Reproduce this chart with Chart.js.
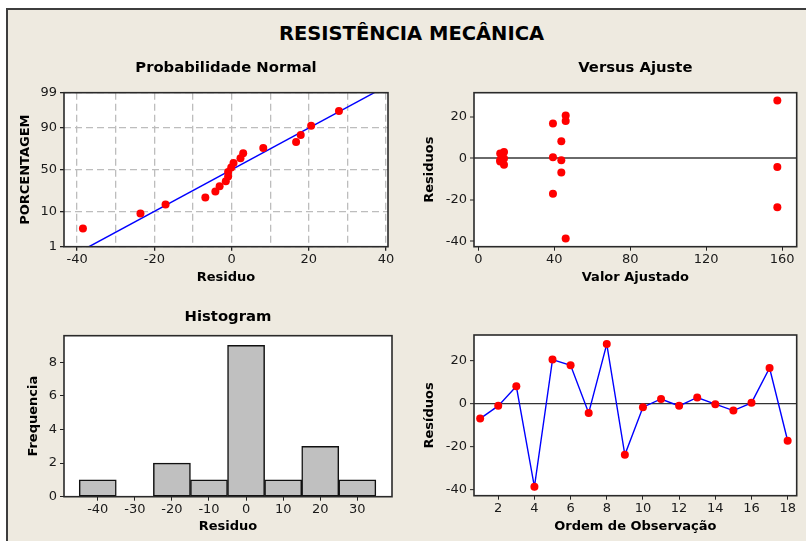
<!DOCTYPE html>
<html>
<head>
<meta charset="utf-8">
<script src="https://cdn.jsdelivr.net/npm/chart.js@4.4.1/dist/chart.umd.min.js"></script>
<style>
  html, body { margin: 0; padding: 0; background: #fff; }
  #page { position: relative; width: 806px; height: 541px; overflow: hidden; background: #fff; }
  #frame { position: absolute; left: 6px; top: 8px; right: 0; bottom: 0; background: #eeeae0;
           border-top: 2px solid #3d3d3d; border-left: 2px solid #3d3d3d; }
  #mainTitle { position: absolute; left: 0; width: 823px; top: 21.5px; line-height: 22px; text-align: center;
               font: bold 19.5px "DejaVu Sans", sans-serif; color: #000; }
  canvas { position: absolute; }
</style>
</head>
<body>
<div id="page">
  <div id="frame"></div>
  <div id="mainTitle">RESISTÊNCIA MECÂNICA</div>
  <canvas id="cProb" width="400" height="245" style="left:0px;top:50px"></canvas>
  <canvas id="cFit" width="406" height="245" style="left:400px;top:50px"></canvas>
  <canvas id="cHist" width="400" height="246" style="left:0px;top:295px"></canvas>
  <canvas id="cOrder" width="406" height="246" style="left:400px;top:295px"></canvas>
</div>
<script>
// Residual analysis data (observation order)
const observations = [1, 2, 3, 4, 5, 6, 7, 8, 9, 10, 11, 12, 13, 14, 15, 16, 17, 18];
const residuals = [-6.8, -0.9, 8.2, -38.5, 20.6, 17.9, -4.2, 27.8, -23.6,
                   -1.5, 2.3, -0.9, 3.0, -0.1, -3.1, 0.5, 16.7, -17.1];
const fittedValues = [43.7, 43.7, 43.7, 46.0, 46.0, 46.0, 157.5, 157.5, 157.5,
                      11.5, 11.5, 11.5, 13.5, 13.5, 13.5, 39.3, 39.3, 39.3];

// Histogram of residuals
const histBinCenters = [-40, -30, -20, -10, 0, 10, 20, 30];
const histCounts = [1, 0, 2, 1, 9, 1, 3, 1];

// Tick labels
const probTickLabels = [1, 10, 50, 90, 99];
const probResidTicks = [-40, -30, -20, -10, 0, 10, 20, 30, 40];
const residTicks = [-40, -20, 0, 20];
const fitTicks = [0, 40, 80, 120, 160];
const orderTicks = [2, 4, 6, 8, 10, 12, 14, 16, 18];
const histXTicks = [-40, -30, -20, -10, 0, 10, 20, 30];
const histYTicks = [0, 2, 4, 6, 8];

const FONT = '"DejaVu Sans", sans-serif';
const TICK_FONT = { family: FONT, size: 13 };
const TITLE_FONT = { family: FONT, size: 14.8, weight: 'bold' };
const AXIS_FONT = { family: FONT, size: 13, weight: 'bold' };
const INK = '#1a1a1a';
const DOT = 4;

// Inverse standard normal CDF (Acklam)
function normInv(p) {
  const a = [-3.969683028665376e+01, 2.209460984245205e+02, -2.759285104469687e+02,
             1.383577518672690e+02, -3.066479806614716e+01, 2.506628277459239e+00];
  const b = [-5.447609879822406e+01, 1.615858368580409e+02, -1.556989798598866e+02,
             6.680131188771972e+01, -1.328068155288572e+01];
  const c = [-7.784894002430293e-03, -3.223964580411365e-01, -2.400758277161838e+00,
             -2.549732539343734e+00, 4.374664141464968e+00, 2.938163982698783e+00];
  const d = [7.784695709041462e-03, 3.224671290700398e-01, 2.445134137142996e+00,
             3.754408661907416e+00];
  const pl = 0.02425;
  let q, r;
  if (p < pl) {
    q = Math.sqrt(-2 * Math.log(p));
    return (((((c[0]*q+c[1])*q+c[2])*q+c[3])*q+c[4])*q+c[5]) / ((((d[0]*q+d[1])*q+d[2])*q+d[3])*q+1);
  }
  if (p > 1 - pl) {
    q = Math.sqrt(-2 * Math.log(1 - p));
    return -(((((c[0]*q+c[1])*q+c[2])*q+c[3])*q+c[4])*q+c[5]) / ((((d[0]*q+d[1])*q+d[2])*q+d[3])*q+1);
  }
  q = p - 0.5; r = q * q;
  return (((((a[0]*r+a[1])*r+a[2])*r+a[3])*r+a[4])*r+a[5])*q / (((((b[0]*r+b[1])*r+b[2])*r+b[3])*r+b[4])*r+1);
}

// White plot area with a dark frame
const plotFrame = {
  id: 'plotFrame',
  beforeDraw(chart) {
    const a = chart.chartArea, c = chart.ctx;
    c.save(); c.fillStyle = '#fff'; c.fillRect(a.left, a.top, a.right - a.left, a.bottom - a.top); c.restore();
  },
  afterDraw(chart) {
    const a = chart.chartArea, c = chart.ctx;
    c.save(); c.strokeStyle = '#2a2a2a'; c.lineWidth = 1.6;
    c.strokeRect(a.left, a.top, a.right - a.left, a.bottom - a.top); c.restore();
  }
};

function fixedTicks(values) {
  return s => { s.ticks = values.map(v => ({ value: v })); };
}
function plotTitle(text, top, bottom) {
  return { display: true, text, font: TITLE_FONT, color: '#000', fullSize: false, padding: { top, bottom } };
}
function baseOpts() {
  return { responsive: false, animation: false, events: [],
           plugins: { legend: { display: false }, tooltip: { enabled: false } } };
}

// ---------- Normal probability plot ----------
const n = residuals.length;
const sortedRes = [...residuals].sort((a, b) => a - b);
const probPoints = sortedRes.map((r, i) => ({ x: r, y: normInv((i + 1 - 0.3) / (n + 0.4)) }));
const mean = residuals.reduce((s, v) => s + v, 0) / n;
const sd = Math.sqrt(residuals.reduce((s, v) => s + (v - mean) ** 2, 0) / (n - 1));
const zLo = normInv(probTickLabels[0] / 100);
const zHi = normInv(probTickLabels[probTickLabels.length - 1] / 100);
const fitLine = [{ x: mean + sd * zLo, y: zLo }, { x: mean + sd * zHi, y: zHi }];

new Chart(document.getElementById('cProb'), {
  type: 'scatter',
  data: { datasets: [
    { data: probPoints, backgroundColor: '#ff0000', borderWidth: 0, pointRadius: DOT },
    { type: 'line', data: fitLine, borderColor: '#0000ff', borderWidth: 1.4, pointRadius: 0, fill: false }
  ] },
  options: Object.assign(baseOpts(), {
    layout: { padding: { left: 0, right: 12, top: 0, bottom: 0 } },
    plugins: { legend: { display: false }, tooltip: { enabled: false },
               title: plotTitle('Probabilidade Normal', 9.12, 15.82) },
    scales: {
      x: { type: 'linear', min: -43.4, max: 40.5,
           afterBuildTicks: fixedTicks(probResidTicks),
           afterFit: s => { s.height = 48.3; },
           ticks: { font: TICK_FONT, color: INK, padding: 1, maxRotation: 0,
                    callback: v => (v % 20 === 0 ? String(v) : '') },
           grid: { color: '#bdbdbd', lineWidth: 1.3, tickLength: 4, tickBorderDash: [],
                   tickColor: ctx => (ctx.tick && ctx.tick.value % 20 === 0 ? '#222' : 'rgba(0,0,0,0)') },
           border: { display: false, dash: [7, 4] },
           title: { display: true, text: 'Residuo', font: AXIS_FONT, color: '#000', padding: { top: 0, bottom: 9.2 } } },
      y: { type: 'linear', min: zLo, max: zHi,
           afterBuildTicks: fixedTicks(probTickLabels.map(p => normInv(p / 100))),
           afterFit: s => { s.width = 64; },
           ticks: { font: TICK_FONT, color: INK, padding: 3, callback: (v, i) => String(probTickLabels[i]) },
           grid: { color: '#bdbdbd', lineWidth: 1.3, tickLength: 4, tickBorderDash: [], tickColor: '#222' },
           border: { display: false, dash: [7, 4] },
           title: { display: true, text: 'PORCENTAGEM', font: AXIS_FONT, color: '#000', padding: { top: 18.2, bottom: 0 } } }
    }
  }),
  plugins: [plotFrame]
});

// ---------- Residuals versus fitted values ----------
new Chart(document.getElementById('cFit'), {
  type: 'scatter',
  data: { datasets: [
    { data: fittedValues.map((f, i) => ({ x: f, y: residuals[i] })), backgroundColor: '#ff0000', borderWidth: 0, pointRadius: DOT }
  ] },
  options: Object.assign(baseOpts(), {
    layout: { padding: { left: 0, right: 9.3, top: 0, bottom: 0 } },
    plugins: { legend: { display: false }, tooltip: { enabled: false },
               title: plotTitle('Versus Ajuste', 9.12, 15.82) },
    scales: {
      x: { type: 'linear', min: -2.3, max: 167.7,
           afterBuildTicks: fixedTicks(fitTicks),
           afterFit: s => { s.height = 48.3; },
           ticks: { font: TICK_FONT, color: INK, padding: 1, maxRotation: 0 },
           grid: { drawOnChartArea: false, tickLength: 4, tickColor: '#222' },
           border: { display: false },
           title: { display: true, text: 'Valor Ajustado', font: AXIS_FONT, color: '#000', padding: { top: 0, bottom: 9.2 } } },
      y: { type: 'linear', min: -42.5, max: 31.5,
           afterBuildTicks: fixedTicks(residTicks),
           afterFit: s => { s.width = 74; },
           ticks: { font: TICK_FONT, color: INK, padding: 3 },
           grid: { color: ctx => (ctx.tick && ctx.tick.value === 0 ? '#6a6a6a' : 'rgba(0,0,0,0)'),
                   lineWidth: 2, tickLength: 4, tickColor: '#222', tickWidth: 1 },
           border: { display: false },
           title: { display: true, text: 'Residuos', font: AXIS_FONT, color: '#000', padding: { top: 21.7, bottom: 0 } } }
    }
  }),
  plugins: [plotFrame]
});

// ---------- Histogram ----------
new Chart(document.getElementById('cHist'), {
  type: 'bar',
  data: { datasets: [
    { data: histBinCenters.map((c, i) => ({ x: c, y: histCounts[i] })),
      backgroundColor: '#c0c0c0', borderColor: '#111', borderWidth: 1.5, borderSkipped: false,
      barPercentage: 1, categoryPercentage: 1 }
  ] },
  options: Object.assign(baseOpts(), {
    layout: { padding: { left: 0, right: 8, top: 0, bottom: 0 } },
    plugins: { legend: { display: false }, tooltip: { enabled: false },
               title: plotTitle('Histogram', 13.62, 9.32) },
    scales: {
      x: { type: 'linear', min: -49.1, max: 39.35, offset: false,
           afterBuildTicks: fixedTicks(histXTicks),
           afterFit: s => { s.height = 44.3; },
           ticks: { font: TICK_FONT, color: INK, padding: 1, maxRotation: 0 },
           grid: { drawOnChartArea: false, offset: false, tickLength: 4, tickColor: '#222' },
           border: { display: false },
           title: { display: true, text: 'Residuo', font: AXIS_FONT, color: '#000', padding: { top: 0, bottom: 6.2 } } },
      y: { type: 'linear', min: 0, max: 9.58,
           afterBuildTicks: fixedTicks(histYTicks),
           afterFit: s => { s.width = 64; },
           ticks: { font: TICK_FONT, color: INK, padding: 3 },
           grid: { drawOnChartArea: false, tickLength: 4, tickColor: '#222' },
           border: { display: false },
           title: { display: true, text: 'Frequencia', font: AXIS_FONT, color: '#000', padding: { top: 25.9, bottom: 0 } } }
    }
  }),
  plugins: [plotFrame]
});

// ---------- Residuals versus observation order ----------
new Chart(document.getElementById('cOrder'), {
  type: 'line',
  data: { datasets: [
    { data: observations.map((o, i) => ({ x: o, y: residuals[i] })),
      borderColor: '#0000ff', borderWidth: 1.4, tension: 0, fill: false,
      pointBackgroundColor: '#ff0000', pointBorderWidth: 0, pointRadius: DOT }
  ] },
  options: Object.assign(baseOpts(), {
    layout: { padding: { left: 0, right: 9.3, top: 40, bottom: 0 } },
    scales: {
      x: { type: 'linear', min: 0.66, max: 18.5,
           afterBuildTicks: fixedTicks(orderTicks),
           afterFit: s => { s.height = 45.3; },
           ticks: { font: TICK_FONT, color: INK, padding: 1, maxRotation: 0 },
           grid: { drawOnChartArea: false, tickLength: 4, tickColor: '#222' },
           border: { display: false },
           title: { display: true, text: 'Ordem de Observação', font: AXIS_FONT, color: '#000', padding: { top: 0, bottom: 6.2 } } },
      y: { type: 'linear', min: -42.6, max: 32.0,
           afterBuildTicks: fixedTicks(residTicks),
           afterFit: s => { s.width = 74; },
           ticks: { font: TICK_FONT, color: INK, padding: 3 },
           grid: { color: ctx => (ctx.tick && ctx.tick.value === 0 ? '#333' : 'rgba(0,0,0,0)'),
                   lineWidth: 1.3, tickLength: 4, tickColor: '#222', tickWidth: 1 },
           border: { display: false },
           title: { display: true, text: 'Resíduos', font: AXIS_FONT, color: '#000', padding: { top: 21.9, bottom: 0 } } }
    }
  }),
  plugins: [plotFrame]
});
</script>
</body>
</html>
